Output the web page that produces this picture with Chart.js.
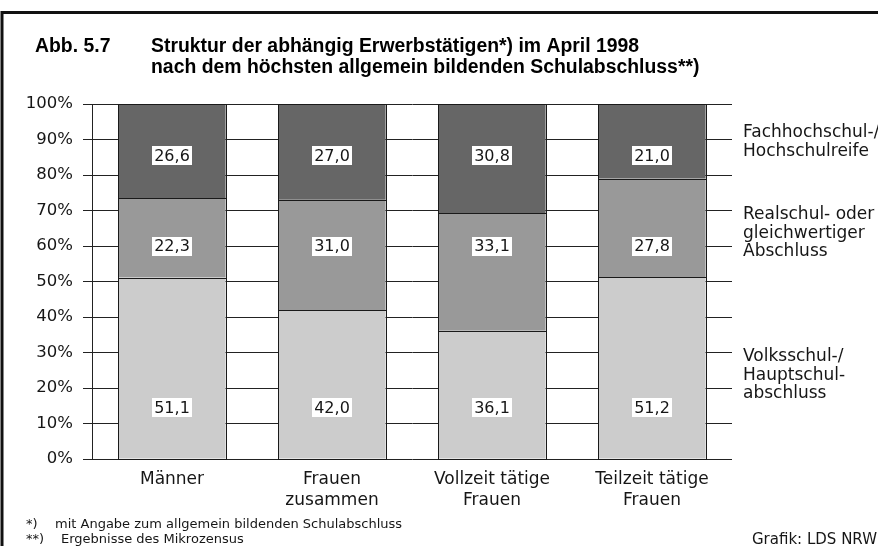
<!DOCTYPE html>
<html>
<head>
<meta charset="utf-8">
<title>Abb. 5.7 Struktur der abhängig Erwerbstätigen</title>
<script src="https://cdn.jsdelivr.net/npm/chart.js@4/dist/chart.umd.min.js"></script>
<style>
  html, body { margin: 0; padding: 0; background: #ffffff; }
  canvas { display: block; }
</style>
</head>
<body>
<canvas id="chart" width="878" height="546"></canvas>
<script>
// Categories (multi-line axis labels)
const categories = [
  ['Männer'],
  ['Frauen', 'zusammen'],
  ['Vollzeit tätige', 'Frauen'],
  ['Teilzeit tätige', 'Frauen']
];

// Shares in percent, bottom to top of each stack
const volksschul     = [51.1, 42.0, 36.1, 51.2];
const realschul      = [22.3, 31.0, 33.1, 27.8];
const hochschulreife = [26.6, 27.0, 30.8, 21.0];

// Series names as written beside the chart
const nameVolksschul     = ['Volksschul-/', 'Hauptschul-', 'abschluss'];
const nameRealschul      = ['Realschul- oder', 'gleichwertiger', 'Abschluss'];
const nameHochschulreife = ['Fachhochschul-/', 'Hochschulreife'];

// Y axis tick labels
const yTickLabels = ['0%', '10%', '20%', '30%', '40%', '50%', '60%', '70%', '80%', '90%', '100%'];

// Texts
const figureNumber = 'Abb. 5.7';
const titleLines = [
  'Struktur der abhängig Erwerbstätigen*) im April 1998',
  'nach dem höchsten allgemein bildenden Schulabschluss**)'
];
const footnotes = [
  ['*)', 'mit Angabe zum allgemein bildenden Schulabschluss'],
  ['**)', 'Ergebnisse des Mikrozensus']
];
const sourceNote = 'Grafik: LDS NRW';

const TEXT = '#161616';
const LINE = '#222222';
const FONT = '"DejaVu Sans", sans-serif';

// Value boxes sit on fixed levels of the y scale, one level per series
const valueLevels = [14.5, 60, 85.5];

const fmt = v => v.toFixed(1).replace('.', ',');

const framePlugin = {
  id: 'frame',
  beforeDraw(chart) {
    const ctx = chart.ctx;
    ctx.save();
    ctx.fillStyle = '#ffffff';
    ctx.fillRect(0, 0, chart.width, chart.height);
    ctx.strokeStyle = '#111111';
    ctx.lineWidth = 3;
    ctx.beginPath();
    ctx.moveTo(chart.width, 12.5);
    ctx.lineTo(2, 12.5);
    ctx.lineTo(2, chart.height);
    ctx.stroke();

    // title
    ctx.fillStyle = '#000000';
    ctx.font = 'bold 19.4px "Liberation Sans", Arial, sans-serif';
    ctx.textBaseline = 'alphabetic';
    ctx.textAlign = 'left';
    ctx.fillText(figureNumber, 35, 52);
    ctx.fillText(titleLines[0], 151, 52);
    ctx.fillText(titleLines[1], 151, 73);

    // footnotes
    ctx.fillStyle = TEXT;
    ctx.font = '13px ' + FONT;
    ctx.fillText(footnotes[0][0], 26, 528);
    ctx.fillText(footnotes[0][1], 55, 528);
    ctx.fillText(footnotes[1][0], 26, 543);
    ctx.fillText(footnotes[1][1], 61, 543);

    ctx.font = '15px ' + FONT;
    ctx.textAlign = 'right';
    ctx.fillText(sourceNote, 877, 544);
    ctx.restore();
  }
};

const sideNamesPlugin = {
  id: 'sideNames',
  afterDraw(chart) {
    const ctx = chart.ctx;
    const x = chart.chartArea.right + 11;
    ctx.save();
    ctx.fillStyle = TEXT;
    ctx.font = '17px ' + FONT;
    ctx.textAlign = 'left';
    ctx.textBaseline = 'alphabetic';
    const groups = [
      [nameHochschulreife, 137],
      [nameRealschul, 219],
      [nameVolksschul, 361]
    ];
    groups.forEach(([lines, y0]) => {
      lines.forEach((t, i) => ctx.fillText(t, x, y0 + i * 18.7));
    });
    ctx.restore();
  }
};

// Crisp dark outline around every bar segment, then the value boxes
const barDetailPlugin = {
  id: 'barDetail',
  afterDatasetsDraw(chart) {
    const ctx = chart.ctx;
    const yScale = chart.scales.y;
    ctx.save();
    ctx.strokeStyle = '#1a1a1a';
    ctx.lineWidth = 1;
    chart.data.datasets.forEach((ds, i) => {
      chart.getDatasetMeta(i).data.forEach(bar => {
        const p = bar.getProps(['x', 'y', 'base', 'width'], true);
        const l = Math.round(p.x - p.width / 2) + 0.5;
        const r = Math.round(p.x + p.width / 2) + 0.5;
        const t = Math.round(Math.min(p.y, p.base)) + 0.5;
        const b = Math.round(Math.max(p.y, p.base)) + 0.5;
        ctx.strokeRect(l, t, r - l, b - t);
      });
    });

    ctx.font = '16px ' + FONT;
    ctx.textAlign = 'center';
    ctx.textBaseline = 'middle';
    chart.data.datasets.forEach((ds, i) => {
      const meta = chart.getDatasetMeta(i);
      const y = yScale.getPixelForValue(valueLevels[i]);
      meta.data.forEach((bar, j) => {
        const txt = fmt(ds.data[j]);
        const w = ctx.measureText(txt).width + 4;
        const h = 19;
        ctx.fillStyle = '#ffffff';
        ctx.fillRect(Math.round(bar.x - w / 2), Math.round(y - h / 2), Math.round(w), h);
        ctx.fillStyle = TEXT;
        ctx.fillText(txt, bar.x, y + 1);
      });
    });
    ctx.restore();
  }
};

new Chart(document.getElementById('chart'), {
  type: 'bar',
  data: {
    labels: categories,
    datasets: [
      { label: nameVolksschul.join(' '), data: volksschul, backgroundColor: '#cccccc' },
      { label: nameRealschul.join(' '), data: realschul, backgroundColor: '#999999' },
      { label: nameHochschulreife.join(' '), data: hochschulreife, backgroundColor: '#666666' }
    ].map(d => Object.assign(d, {
      borderWidth: 0,
      barPercentage: 0.67,
      categoryPercentage: 1.0
    }))
  },
  options: {
    responsive: false,
    devicePixelRatio: 1,
    animation: false,
    layout: { padding: { left: 0, top: 104, right: 146, bottom: 0 } },
    plugins: {
      legend: { display: false },
      tooltip: { enabled: false },
      title: { display: false }
    },
    scales: {
      x: {
        stacked: true,
        grid: { display: false, drawTicks: false },
        border: { display: false },
        ticks: {
          color: TEXT,
          font: { family: FONT, size: 17, lineHeight: 1.18 },
          padding: 11,
          maxRotation: 0,
          autoSkip: false
        },
        afterFit(scale) { scale.height = 87; }
      },
      y: {
        stacked: true,
        min: 0,
        max: 100,
        grid: { color: LINE, lineWidth: 1, drawTicks: true, tickLength: 9, tickColor: LINE },
        border: { display: true, color: LINE, width: 1 },
        ticks: {
          stepSize: 10,
          color: TEXT,
          font: { family: FONT, size: 16.5 },
          padding: 10,
          callback: (v, i) => yTickLabels[i]
        },
        afterFit(scale) { scale.width = 92; }
      }
    }
  },
  plugins: [framePlugin, sideNamesPlugin, barDetailPlugin]
});
</script>
</body>
</html>
